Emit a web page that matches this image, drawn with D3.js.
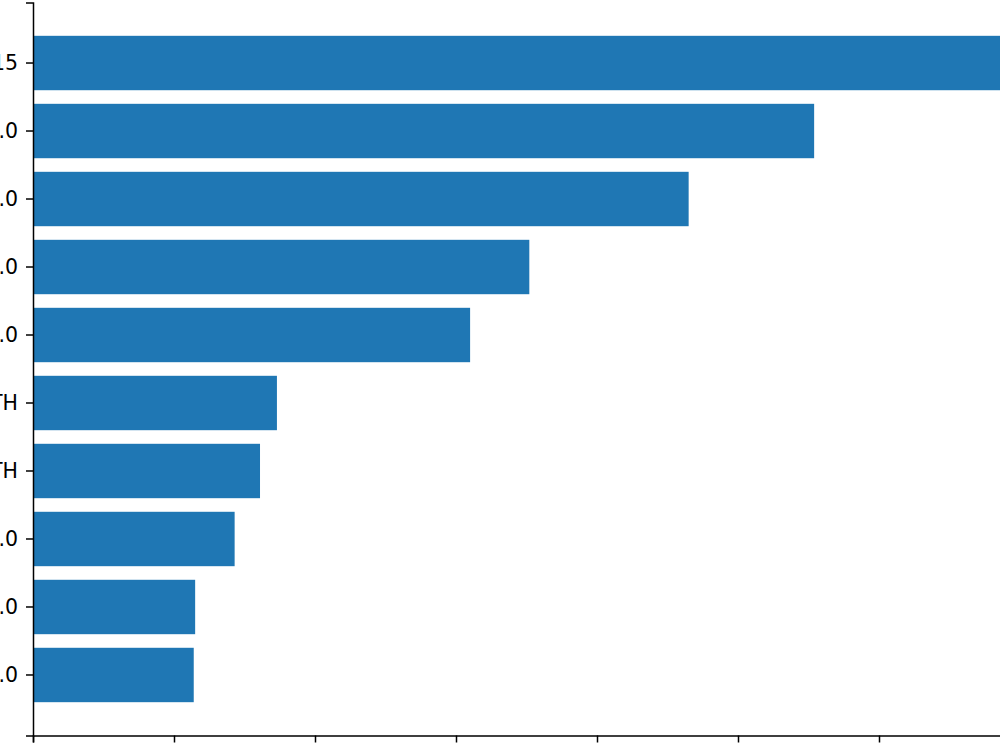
<!doctype html>
<html lang="en">
  <head>
    <meta charset="utf-8">
    <title>bars</title>
    <script src="https://d3js.org/d3.v7.min.js"></script>
    <style>
      html, body { margin: 0; padding: 0; background: white; overflow: hidden; }
      svg { display: block; }
      .axis text { font-family: "DejaVu Sans", sans-serif; font-size: 20.5px; fill: #000; }
      .axis path, .axis line { stroke: #000; stroke-width: 1.5px; }
    </style>
  </head>
  <body>
    <svg></svg>
    <script>
      // categories top -> bottom
      var categories = ["2015", "10.0", "20.0", "30.0", "40.0", "MONTH", "BIRTH", "50.0", "60.0", "70.0"];
      var values = [720, 554, 465, 352, 310, 173, 161, 143, 115, 114];
      var xTicks = [0, 100, 200, 300, 400, 500, 600, 700];

      var svg = d3.select("svg")
        .attr("width", 1120)
        .attr("height", 790);

      var plotLeft = 33, plotTop = 2.5, plotBottom = 735.5;

      var x = d3.scaleLinear()
        .domain([0, d3.max(values) * 1.05])
        .range([plotLeft, plotLeft + d3.max(values) * 1.05 * 1.41]);

      var y = d3.scaleBand()
        .domain(categories)
        .range([plotTop, plotBottom])
        .paddingInner(0.2)
        .paddingOuter(0.49);

      svg.selectAll(".bar").data(values).enter()
        .append("rect")
        .attr("class", "bar")
        .attr("fill", "#1f77b4")
        .attr("x", x(0))
        .attr("y", function(d, i){ return y(categories[i]) })
        .attr("height", y.bandwidth())
        .attr("width", function(d){ return x(d) - x(0) })

      svg.append("g")
        .attr("class", "axis")
        .attr("transform", "translate(" + plotLeft + ",0)")
        .call(d3.axisLeft(y).tickSizeOuter(0).tickSize(7).tickPadding(8))

      // x tick labels fall just below the visible area, as in the reference
      svg.append("g")
        .attr("class", "axis")
        .attr("transform", "translate(0," + plotBottom + ")")
        .call(d3.axisBottom(x).tickValues(xTicks).tickSizeOuter(0).tickSize(7).tickPadding(10))
    </script>
  </body>
</html>
